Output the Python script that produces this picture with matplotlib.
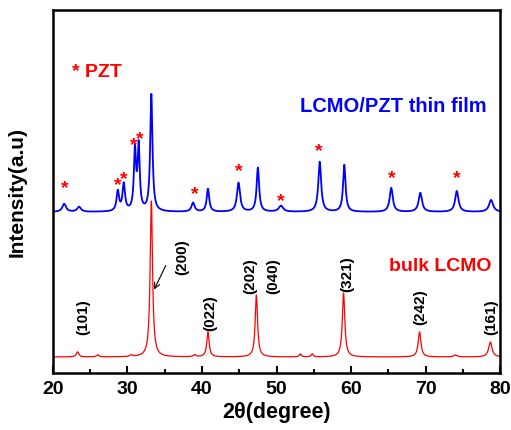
import numpy as np
import matplotlib.pyplot as plt

plt.rcParams['font.family'] = ['Liberation Sans', 'DejaVu Sans']
plt.rcParams['font.weight'] = 'bold'
plt.rcParams['axes.labelweight'] = 'bold'

# bulk LCMO pattern: peak positions (2theta), heights above baseline, widths
bulk_pos = [23.3, 26.0, 30.5, 33.2, 39.0, 40.8, 47.3, 53.2, 54.8, 59.0, 69.2, 74.0, 78.7]
bulk_h = [5, 2, 1.5, 156, 2, 25, 62, 3, 3, 64, 25, 2, 15]
bulk_w = [0.2, 0.2, 0.2, 0.19, 0.2, 0.19, 0.19, 0.15, 0.15, 0.2, 0.22, 0.25, 0.27]
bulk_base = 16

# LCMO/PZT thin film pattern
film_pos = [21.5, 23.5, 28.7, 29.5, 31.0, 31.5, 33.2, 38.8, 40.8, 44.9, 47.5,
            50.6, 55.8, 59.1, 65.4, 69.3, 74.2, 78.8]
film_h = [8, 5, 20, 27, 60, 64, 117, 9, 23, 29, 44, 6, 50, 47, 24, 19, 21, 12]
film_w = [0.3, 0.3, 0.2, 0.2, 0.17, 0.17, 0.18, 0.25, 0.2, 0.25, 0.2,
          0.35, 0.23, 0.2, 0.25, 0.27, 0.27, 0.33]
film_base = 161

# PZT star markers
star_x = [21.61, 28.72, 29.53, 30.87, 31.68, 39.06, 44.97, 50.60, 55.70, 65.50, 74.23]
star_y = [184, 187, 193, 227, 233, 178, 201, 171, 221, 194, 194]

# hkl labels
hkl = ['(101)', '(200)', '(022)', '(202)', '(040)', '(321)', '(242)', '(161)']
hkl_x = [24.03, 37.3, 41.07, 46.44, 49.53, 59.46, 69.26, 78.79]
hkl_y = [56, 116, 60, 97, 97, 99, 66, 56]


def pattern(x, base, pos, h, w):
    y = np.full_like(x, base, dtype=float)
    for p, a, g in zip(pos, h, w):
        y += a / (1 + ((x - p) / g) ** 2)
    return y


tt = np.linspace(20, 80, 4000)

fig = plt.figure(figsize=(5.11, 4.30), dpi=100)
ax = fig.add_axes([0.1037, 0.1326, 0.8748, 0.8441])

ax.plot(tt, pattern(tt, bulk_base, bulk_pos, bulk_h, bulk_w), color='#ff0000', lw=0.9)
ax.plot(tt, pattern(tt, film_base, film_pos, film_h, film_w), color='#0000ff', lw=1.3)

for sx, sy in zip(star_x, star_y):
    ax.text(sx, sy, '*', color='red', fontsize=14, fontweight='bold',
            ha='center', va='center')

for lab, lx, ly in zip(hkl, hkl_x, hkl_y):
    ax.text(lx, ly, lab, rotation=90, fontsize=11, fontweight='bold',
            ha='center', va='center')

ax.annotate('', xy=(33.42, 81), xytext=(35.30, 110),
            arrowprops=dict(arrowstyle='->', color='black', lw=0.8))

ax.text(22.55, 301, '* PZT', color='red', fontsize=14, fontweight='bold',
        ha='left', va='center')
ax.text(65.7, 267, 'LCMO/PZT thin film', color='#0000ff', fontsize=14.5,
        fontweight='bold', ha='center', va='center')
ax.text(71.95, 106, 'bulk LCMO', color='red', fontsize=14, fontweight='bold',
        ha='center', va='center')

ax.set_xlim(20, 80)
ax.set_ylim(0, 363)
ax.set_xticks([20, 30, 40, 50, 60, 70, 80])
ax.set_xticks(np.arange(25, 80, 10), minor=True)
ax.set_yticks([])
ax.tick_params(axis='x', which='major', direction='in', length=5, width=1.5,
               labelsize=14, pad=6)
ax.tick_params(axis='x', which='minor', direction='in', length=3, width=1.5)
for t in ax.get_xticklabels():
    t.set_fontweight('bold')
for s in ax.spines.values():
    s.set_linewidth(1.8)

ax.set_xlabel('2θ(degree)', fontsize=15.5, fontweight='bold', labelpad=3)
ax.set_ylabel('Intensity(a.u)', fontsize=15, fontweight='bold', labelpad=19)

fig.savefig('out.png', dpi=100)
